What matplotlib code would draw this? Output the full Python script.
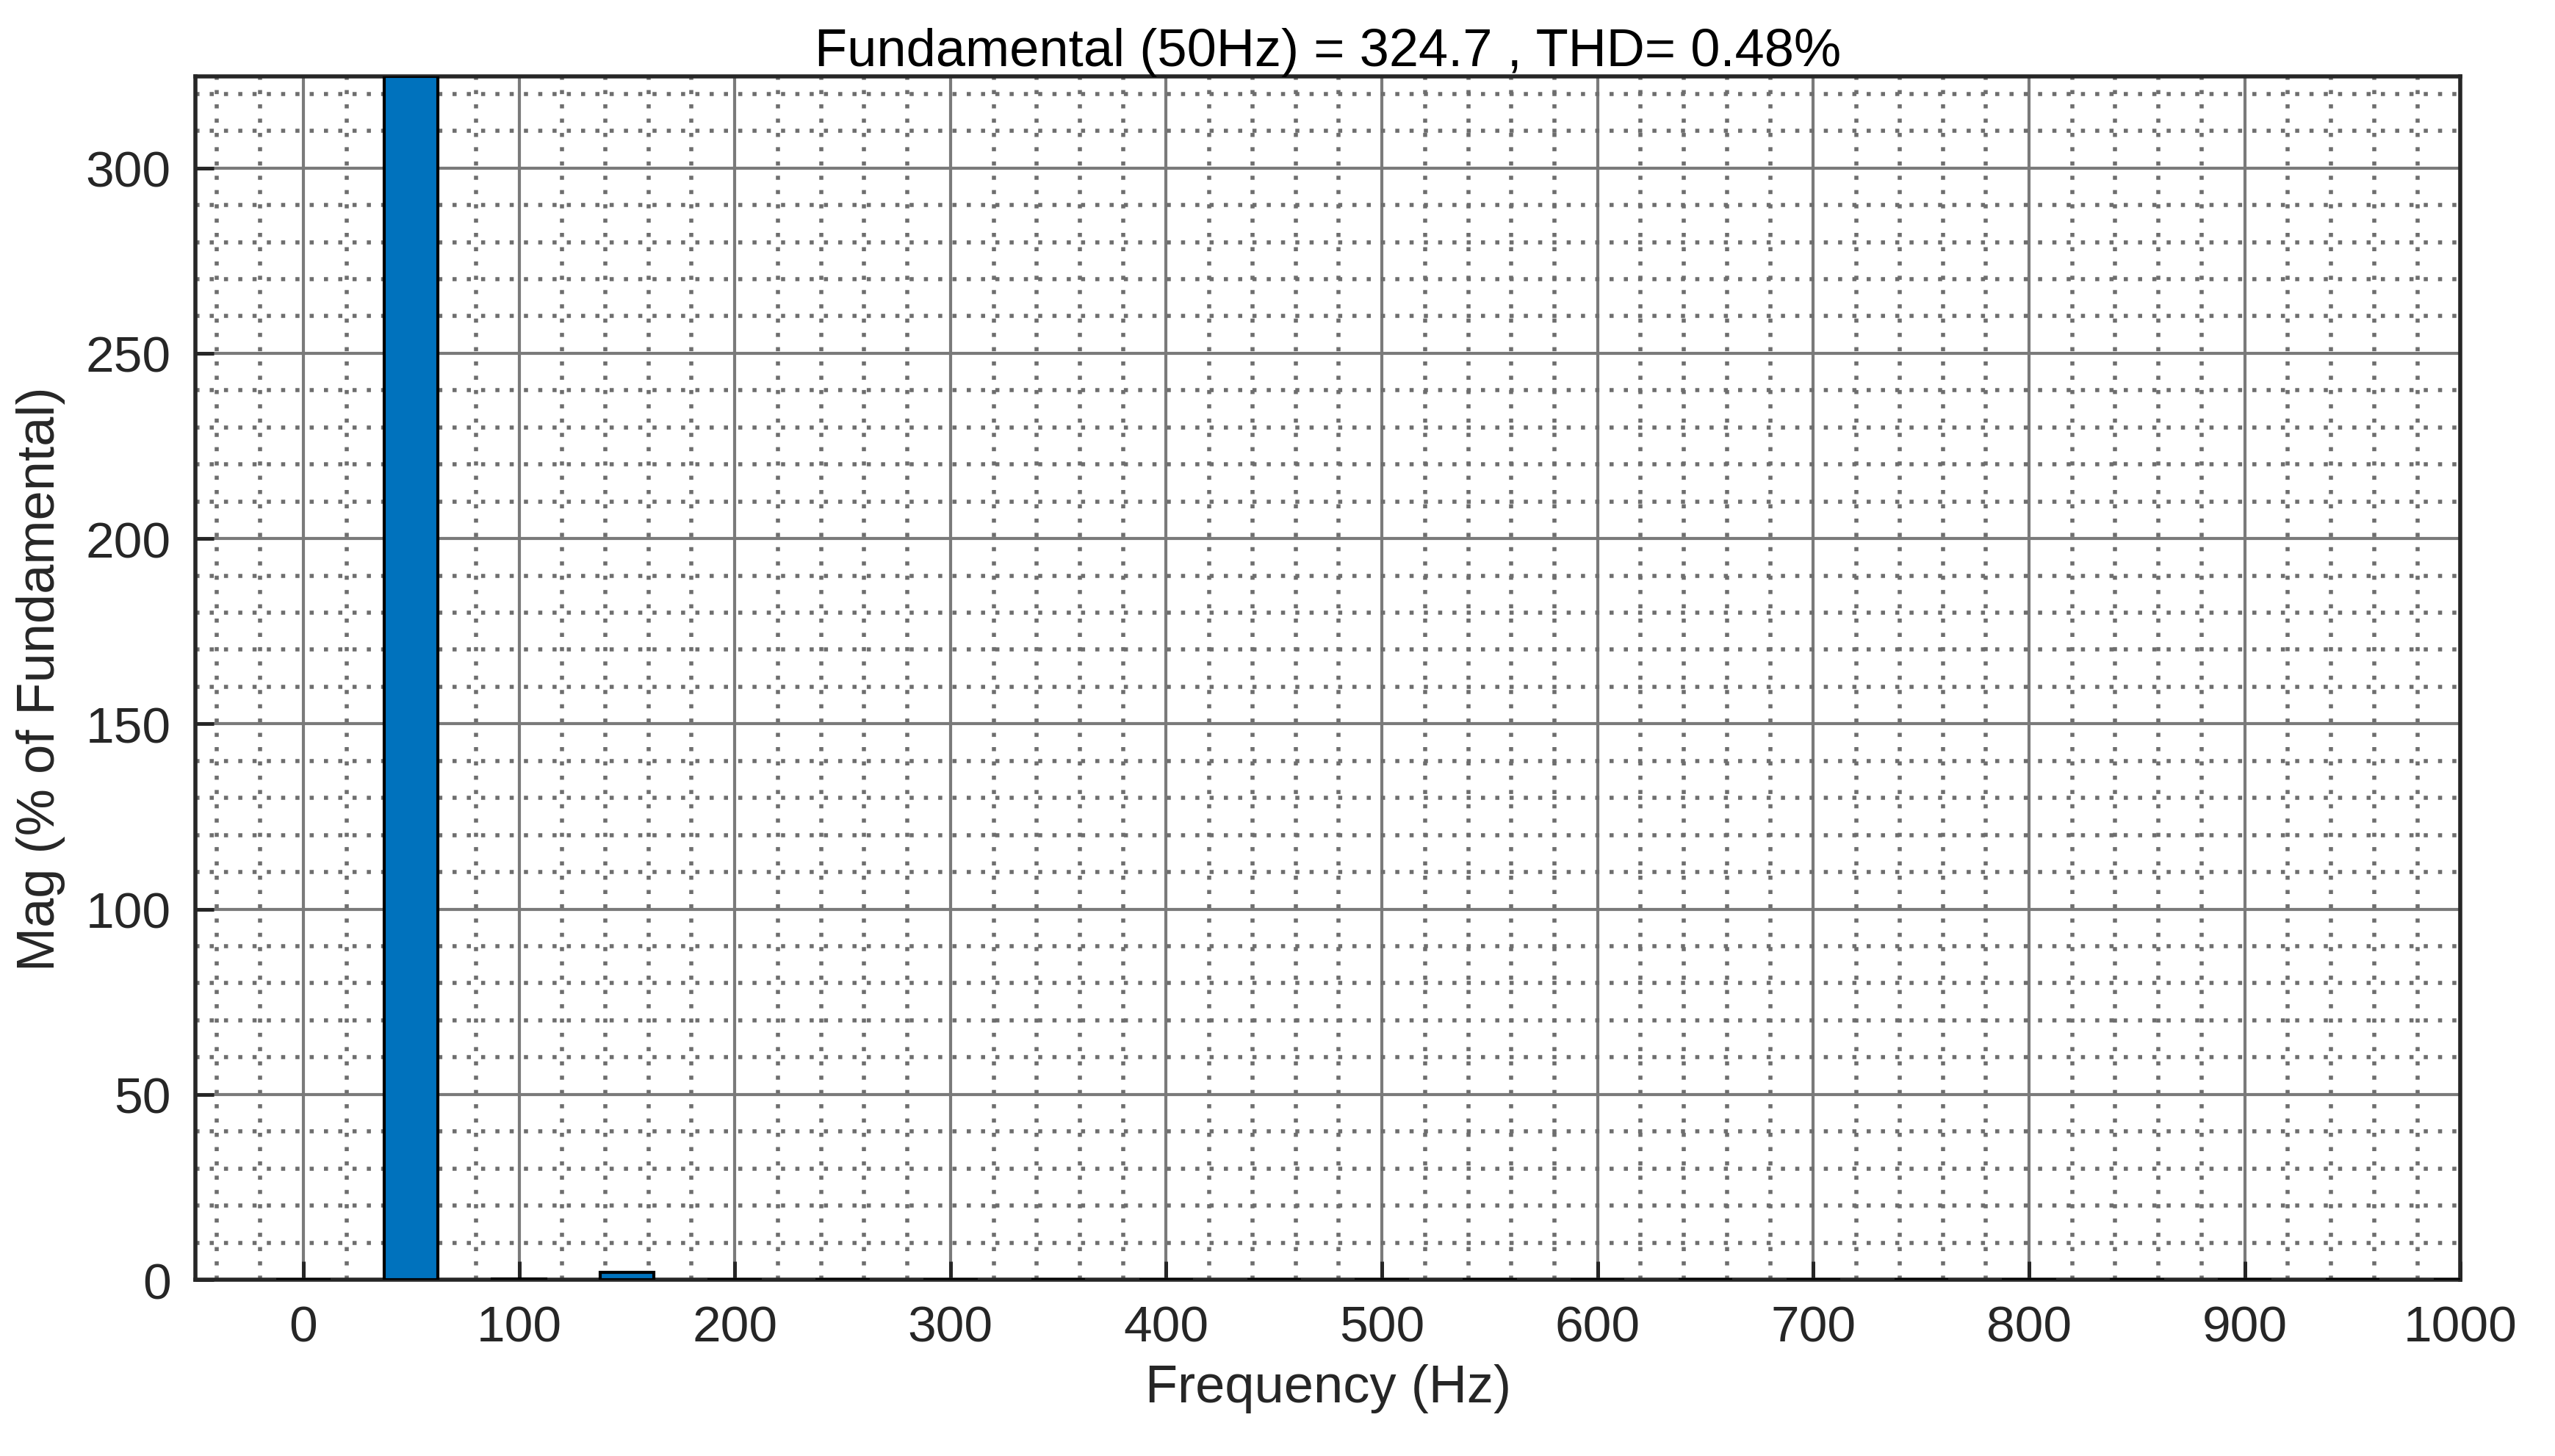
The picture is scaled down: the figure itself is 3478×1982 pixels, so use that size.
import matplotlib
matplotlib.use("Agg")
import matplotlib.pyplot as plt
from matplotlib.ticker import MultipleLocator

freqs = [0, 50, 100, 150, 200, 250, 300, 350, 400, 450, 500, 550, 600, 650, 700, 750, 800, 850, 900, 950, 1000]
mags = [0.0, 324.7, 0.3, 2.0, 0.05, 0.05, 0.05, 0.05, 0.05, 0.05, 0.05, 0.05, 0.05, 0.05, 0.05, 0.05, 0.05, 0.05, 0.05, 0.05, 0.05]
title = "Fundamental (50Hz) = 324.7 , THD= 0.48%"

plt.rcParams['font.family'] = ['Liberation Sans', 'DejaVu Sans']
fig = plt.figure(figsize=(17.39, 9.915), dpi=200)
ax = fig.add_axes([0.0765, 0.121, 0.8865, 0.826])
ax.bar(freqs, mags, width=25, color='#0072BD', edgecolor='black', linewidth=1.5, zorder=3)
ax.set_xlim(-50, 1000)
ax.set_ylim(0, 324.7)
ax.xaxis.set_major_locator(MultipleLocator(100))
ax.xaxis.set_minor_locator(MultipleLocator(20))
ax.yaxis.set_major_locator(MultipleLocator(50))
ax.yaxis.set_minor_locator(MultipleLocator(10))
ax.grid(which='major', color='#7a7a7a', linewidth=1.5, linestyle='-', zorder=0)
ax.grid(which='minor', color='#6e6e6e', linewidth=2.0, linestyle=(0, (1, 2.5)), zorder=0)
ax.tick_params(which='both', direction='in', labelsize=25, colors='#262626', width=1.8)
ax.tick_params(which='major', length=9, pad=12)
ax.tick_params(which='minor', length=0)
for s in ax.spines.values():
    s.set_linewidth(2.0)
    s.set_color('#262626')
ax.set_xlabel('Frequency (Hz)', fontsize=26, color='#262626', labelpad=6)
ax.set_ylabel('Mag (% of Fundamental)', fontsize=26, color='#262626', labelpad=10)
ax.set_title(title, fontsize=26, color='black', pad=4)
fig.savefig('out.png', dpi=200)
